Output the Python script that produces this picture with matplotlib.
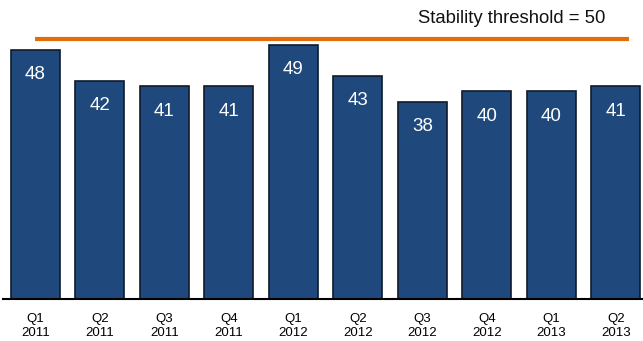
import matplotlib
matplotlib.use('Agg')
import matplotlib.pyplot as plt

quarters = ['Q1', 'Q2', 'Q3', 'Q4', 'Q1', 'Q2', 'Q3', 'Q4', 'Q1', 'Q2']
years = ['2011', '2011', '2011', '2011', '2012', '2012', '2012', '2012', '2013', '2013']
values = [48, 42, 41, 41, 49, 43, 38, 40, 40, 41]
threshold = 50

plt.rcParams['font.family'] = ['Liberation Sans', 'DejaVu Sans']

fig = plt.figure(figsize=(6.43, 3.41), dpi=100)
ax = fig.add_axes([3 / 643, 42 / 341, 640 / 643, 299 / 341])

x = range(len(values))
bars = ax.bar(x, values, width=0.76, color='#1F497D', edgecolor='#0E1A2B', linewidth=1.2)
for b, v in zip(bars, values):
    ax.text(b.get_x() + b.get_width() / 2, v - 4.8, str(v),
            ha='center', va='center', color='white', fontsize=13.5)

ax.hlines(threshold, -0.01, 9.2, color='#E46C0A', linewidth=3)
ax.text(8.84, 54.0, f'Stability threshold = {threshold}', ha='right', va='center',
        fontsize=13.3, color='#111111')

ax.set_xlim(-0.504, 9.42)
ax.set_ylim(0, 57.6)
ax.set_xticks(list(x))
ax.set_xticklabels([f'{q}\n{y}' for q, y in zip(quarters, years)], fontsize=9.5,
                   linespacing=1.25)
ax.tick_params(axis='x', length=0, pad=10)
ax.set_yticks([])
for s in ['top', 'left', 'right']:
    ax.spines[s].set_visible(False)
ax.spines['bottom'].set_linewidth(1.5)
ax.spines['bottom'].set_color('black')

fig.savefig('out.png', dpi=100)
